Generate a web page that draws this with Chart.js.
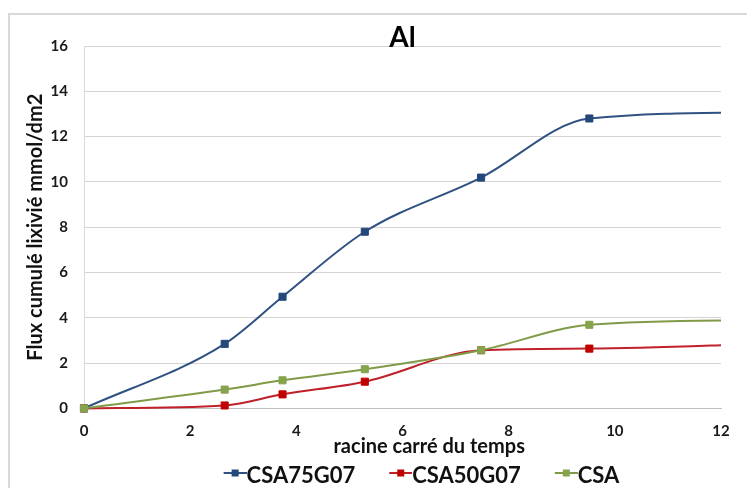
<!DOCTYPE html>
<html>
<head>
<meta charset="utf-8">
<script src="https://cdn.jsdelivr.net/npm/chart.js@4/dist/chart.umd.min.js"></script>
<style>
    html, body { margin: 0; padding: 0; background: #fff; overflow: hidden; }
    #frame { position: absolute; left: 8px; top: 13px; border: 2px solid #d9d9d9; }
    canvas { display: block; }
</style>
</head>
<body>
<div id="frame"><canvas id="myChart" width="789" height="482"></canvas></div>
<script>
// square root of time (x) and cumulative leached flux (y), one array per series
var racineTemps = [0, 2.65, 3.74, 5.29, 7.48, 9.52, 12.96];
var csa75g07 = [0, 2.85, 4.93, 7.8, 10.19, 12.8, 13.08];
var csa50g07 = [0, 0.13, 0.62, 1.18, 2.57, 2.64, 2.86];
var csa = [0, 0.83, 1.24, 1.73, 2.57, 3.69, 3.9];

var seriesNames = ['CSA75G07', 'CSA50G07', 'CSA'];
var lineColors = ['#2f5282', '#c0202a', '#809b48'];
var markerColors = ['#24487a', '#c00000', '#86a34d'];

var xMax = 12;
var xStep = 2;
var yMax = 16;
var yStep = 2;

function toPoints(values) {
    return values.map(function(v, i) { return { x: racineTemps[i], y: v }; });
}

// legend icon: short line with a square in the middle, drawn at the right of the box
function legendIcon(lineColor, markerColor) {
    var c = document.createElement('canvas');
    c.width = 58;
    c.height = 22;
    var g = c.getContext('2d');
    g.strokeStyle = lineColor;
    g.lineWidth = 2;
    g.beginPath();
    g.moveTo(35, 8);
    g.lineTo(58, 8);
    g.stroke();
    g.fillStyle = markerColor;
    g.fillRect(43, 4.5, 7, 7);
    return c;
}

var icons = lineColors.map(function(c, i) { return legendIcon(c, markerColors[i]); });

function makeDataset(i, values) {
    return {
        label: seriesNames[i],
        data: toPoints(values),
        borderColor: lineColors[i],
        backgroundColor: markerColors[i],
        pointBackgroundColor: markerColors[i],
        pointBorderColor: markerColors[i],
        pointBorderWidth: 1,
        pointStyle: 'rect',
        pointRadius: 5,
        borderWidth: 2,
        cubicInterpolationMode: 'monotone',
        fill: false,
        order: 3 - i,
        xAxisID: 'x',
        yAxisID: 'y',
        clip: { left: 10, top: 10, bottom: 10, right: 0 }
    };
}

var ctx = document.getElementById('myChart').getContext('2d');

var myLineChart = new Chart(ctx, {
    type: 'line',
    data: {
        datasets: [
            makeDataset(0, csa75g07),
            makeDataset(1, csa50g07),
            makeDataset(2, csa)
        ]
    },
    options: {
        responsive: false,
        animation: false,
        devicePixelRatio: 1,
        layout: { padding: { left: 10, top: 0, right: 0, bottom: 0 } },
        plugins: {
            tooltip: { enabled: false },
            title: {
                display: true,
                fullSize: false,
                text: 'Al',
                color: '#000',
                font: { family: 'Lato', size: 28, weight: 'bold', lineHeight: 1.2 },
                padding: { top: 6, bottom: -8.6 }
            },
            legend: {
                position: 'bottom',
                labels: {
                    font: { family: 'Lato', size: 22, weight: 'bold' },
                    color: '#111',
                    usePointStyle: true,
                    pointStyleWidth: 36,
                    padding: 10,
                    sort: function(a, b) { return a.datasetIndex - b.datasetIndex; },
                    generateLabels: function(chart) {
                        var items = Chart.defaults.plugins.legend.labels.generateLabels(chart);
                        items.forEach(function(item) {
                            item.pointStyle = icons[item.datasetIndex];
                        });
                        return items;
                    }
                }
            }
        },
        scales: {
            x: {
                type: 'linear',
                min: 0,
                max: xMax,
                grid: { display: false, drawTicks: false },
                border: { display: true, color: '#bfbfbf', width: 1 },
                ticks: {
                    stepSize: xStep,
                    padding: 14,
                    color: '#1a1a1a',
                    font: { family: 'Lato', size: 15, weight: 'bold' }
                },
                title: {
                    display: true,
                    // caption sits a little right of the plot centre
                    text: '\u00a0'.repeat(11) + 'racine carré du temps',
                    color: '#111',
                    font: { family: 'Lato', size: 20, weight: 'bold' },
                    padding: { top: -19.4, bottom: -4 }
                }
            },
            y: {
                type: 'linear',
                min: 0,
                max: yMax,
                grid: { color: '#d4d4d4', drawTicks: false },
                border: { display: true, color: '#d9d9d9' },
                ticks: {
                    stepSize: yStep,
                    padding: 16,
                    color: '#1a1a1a',
                    font: { family: 'Lato', size: 15, weight: 'bold' }
                },
                title: {
                    display: true,
                    text: 'Flux cumulé lixivié mmol/dm2',
                    color: '#111',
                    font: { family: 'Lato', size: 20, weight: 'bold' },
                    padding: { top: 4, bottom: 4 }
                },
                afterFit: function(scale) { scale.width = 64; }
            },
            yRight: {
                type: 'linear',
                position: 'right',
                display: true,
                grid: { display: false, drawTicks: false },
                border: { display: false },
                ticks: { display: false },
                afterFit: function(scale) { scale.width = 78; }
            }
        }
    }
});
</script>
</body>
</html>
